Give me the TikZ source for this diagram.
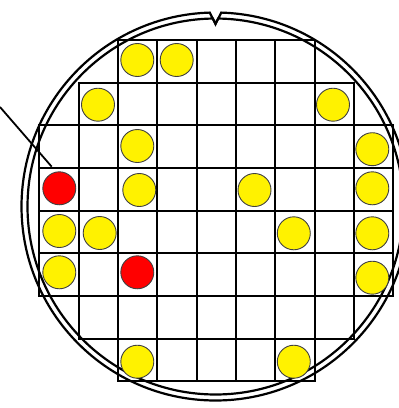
\documentclass[tikz,border=0pt]{standalone}
\usetikzlibrary{positioning}

\begin{document}
\begin{tikzpicture}[x=1pt, y=-1pt,
    die/.style={circle, draw=black!75, line width=0.9pt, minimum size=33pt, inner sep=0pt},
    good/.style={die, fill=yellow},
    bad/.style={die, fill=red},
    cell/.style={draw=black, line width=2pt},
    wafer/.style={draw=black, line width=2.2pt, line join=miter},
    pointer/.style={draw=black, line width=1.8pt}]

    \useasboundingbox (0,0) rectangle (399,408);

    % die grid
    \foreach \row/\first/\last in {0/2/6, 1/1/7, 2/0/8, 3/0/8, 4/0/8, 5/0/8, 6/1/7, 7/2/6}
        \foreach \col in {\first,...,\last}
            \draw[cell] ({39.33+39.33*\col},{40+42.67*\row}) rectangle ++(39.33,42.67);

    % wafer outline with notch
    \coordinate (centre) at (215.5,206.5);
    \coordinate (notch) at (215.5,24);
    \draw[wafer] (centre) ++(271.7:194) arc[start angle=271.7, end angle=628.3, radius=194] -- (notch) -- cycle;
    \draw[wafer] (centre) ++(270.8:188) arc[start angle=270.8, end angle=629.2, radius=188] -- (notch) -- cycle;

    % tested dies
    \node[good] (r0c2) at (137.3,60) {};
    \node[good] (r0c3) at (176.7,60) {};
    \node[good] (r1c1) at (98,104.7) {};
    \node[good] (r1c7) at (333,104.7) {};
    \node[good] (r2c2) at (137.3,146) {};
    \node[good] (r2c8) at (372.3,149.2) {};
    \node[bad]  (r3c0) at (59.3,188.3) {};
    \node[good] (r3c2) at (139.3,190) {};
    \node[good] (r3c5) at (254.5,190) {};
    \node[good] (r3c8) at (372.3,188.3) {};
    \node[good] (r4c0) at (59.3,231) {};
    \node[good] (r4c1) at (99.7,233) {};
    \node[good] (r4c6) at (293.8,233.3) {};
    \node[good] (r4c8) at (372.3,233.3) {};
    \node[good] (r5c0) at (59.3,272.3) {};
    \node[bad]  (r5c2) at (137.3,272.3) {};
    \node[good] (r5c8) at (372.3,277.7) {};
    \node[good] (r7c2) at (137.3,361.7) {};
    \node[good] (r7c6) at (293.8,361.7) {};

    % pointer to the failing die
    \coordinate (lead) at (0,107);
    \coordinate (tip) at ([shift={(-7.6,-21.6)}]r3c0);
    \draw[pointer] (lead) -- (tip);
\end{tikzpicture}
\end{document}
